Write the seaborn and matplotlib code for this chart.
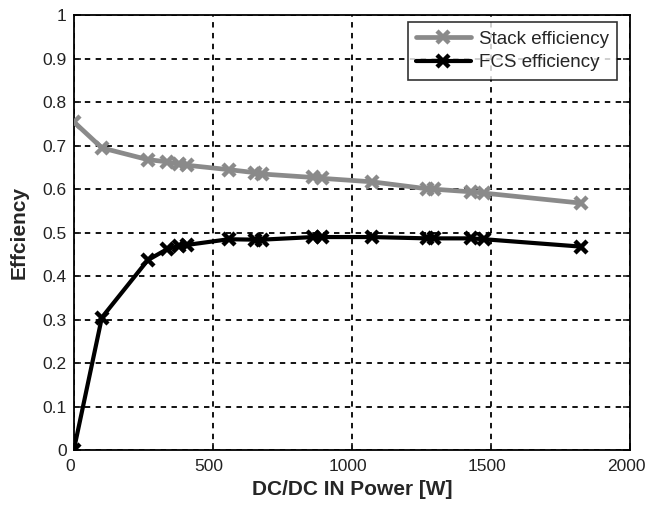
import matplotlib
matplotlib.use("Agg")
import matplotlib.pyplot as plt
import matplotlib.transforms as mtransforms
import seaborn as sns
import numpy as np

power = [0, 101, 266, 335, 378, 408, 557, 652, 676, 860, 892, 1072, 1270, 1295, 1428, 1475, 1824]
stack_eff = [0.755, 0.695, 0.668, 0.663, 0.657, 0.655, 0.645, 0.638, 0.635, 0.627, 0.625, 0.617, 0.601, 0.600, 0.594, 0.591, 0.568]
fcs_eff = [0.0, 0.305, 0.437, 0.462, 0.470, 0.472, 0.485, 0.484, 0.484, 0.490, 0.490, 0.490, 0.487, 0.487, 0.487, 0.485, 0.468]

xticks = [0, 500, 1000, 1500, 2000]
yticks = [0, 0.1, 0.2, 0.3, 0.4, 0.5, 0.6, 0.7, 0.8, 0.9, 1]
ytick_labels = ["0", "0.1", "0.2", "0.3", "0.4", "0.5", "0.6", "0.7", "0.8", "0.9", "1"]

sns.set_style("white")
plt.rcParams['font.family'] = ['Liberation Sans', 'DejaVu Sans']

fig = plt.figure(figsize=(6.47, 5.07), dpi=100)
ax = fig.add_axes([0.114, 0.112, 0.860, 0.858])

sns.lineplot(x=power, y=stack_eff, ax=ax, color="#8a8a8a", lw=3.4, marker="x",
             markersize=9, markeredgewidth=3.2, markeredgecolor="#8a8a8a",
             sort=False, label="Stack efficiency", zorder=3)
sns.lineplot(x=power, y=fcs_eff, ax=ax, color="black", lw=3.0, marker="x",
             markersize=9, markeredgewidth=3.2, markeredgecolor="black",
             sort=False, label="FCS efficiency", zorder=4)

ax.set_xlim(0, 2000)
ax.set_ylim(0, 1)
ax.set_xticks(xticks)
ax.set_xticklabels([str(v) for v in xticks])
ax.set_yticks(yticks)
ax.set_yticklabels(ytick_labels)
ax.grid(True, color="black", linestyle=(0, (3, 3)), linewidth=1.3)
ax.set_axisbelow(True)
for s in ax.spines.values():
    s.set_color("black")
    s.set_linewidth(1.3)
ax.tick_params(direction="in", length=5, width=1.2, colors="#222222", labelsize=12.5,
               top=False, right=True, left=True, bottom=True)
ax.tick_params(axis="x", pad=6)
ax.tick_params(axis="y", pad=5)
shift = mtransforms.ScaledTranslation(-0.04, 0, fig.dpi_scale_trans)
for lab in ax.get_xticklabels():
    lab.set_transform(lab.get_transform() + shift)
ax.set_xlabel("DC/DC IN Power [W]", fontsize=15, fontweight="bold", labelpad=5)
ax.set_ylabel("Effciency", fontsize=15, fontweight="bold", labelpad=10)

leg = ax.legend(loc="upper right", bbox_to_anchor=(0.977, 0.984), fontsize=13.5, frameon=True,
                fancybox=False, edgecolor="black", handlelength=2.9, borderpad=0.45,
                labelspacing=0.35, handletextpad=0.45, borderaxespad=0)
leg.get_frame().set_linewidth(1.2)

fig.savefig("out.png", dpi=100)
